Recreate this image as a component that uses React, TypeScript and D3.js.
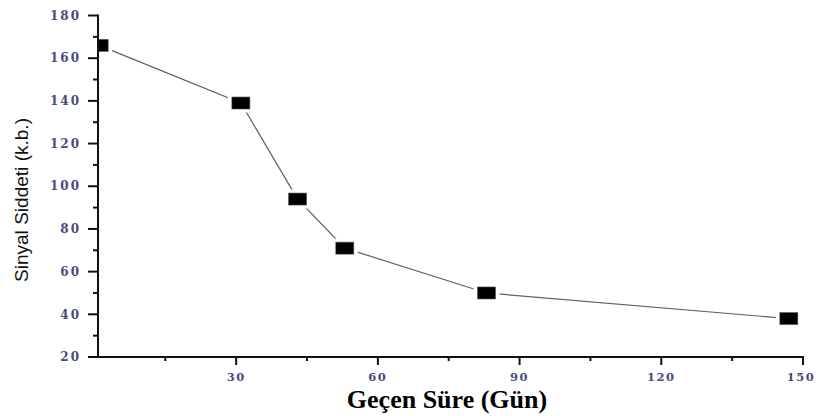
import { useEffect, useRef } from 'react';
import * as d3 from 'd3';

// days elapsed vs. signal intensity
const days = [1, 31, 43, 53, 83, 147];
const signal = [166, 139, 94, 71, 50, 38];

const xTicks = [30, 60, 90, 120, 150];
const xMinor = [15, 45, 75, 105, 135];
const yTicks = [20, 40, 60, 80, 100, 120, 140, 160, 180];
const yMinor = [30, 50, 70, 90, 110, 130, 150, 170];

const W = 816;
const H = 416;

export default function App() {
  const svgRef = useRef<SVGSVGElement | null>(null);

  useEffect(() => {
    if (!svgRef.current) return;
    const svg = d3.select(svgRef.current);
    svg.selectAll('*').remove();

    const x = d3.scaleLinear().domain([0.75, 150]).range([98, 803]);
    const y = d3.scaleLinear().domain([20, 180]).range([357, 15.5]);

    const pts = days.map((d, i) => ({ d, v: signal[i] }));

    svg.append('defs').append('clipPath').attr('id', 'plot')
      .append('rect').attr('x', 98).attr('y', 0).attr('width', W - 98).attr('height', 357);

    const g = svg.append('g').attr('clip-path', 'url(#plot)');

    // connecting line
    g.append('path')
      .datum(pts)
      .attr('d', d3.line<{ d: number; v: number }>().x(p => x(p.d)).y(p => y(p.v)))
      .attr('fill', 'none')
      .attr('stroke', '#606060')
      .attr('stroke-width', 1.2);

    // white halo so the line stops short of each marker
    g.selectAll('rect.halo')
      .data(pts)
      .join('rect')
      .attr('class', 'halo')
      .attr('x', p => x(p.d) - 13)
      .attr('y', p => y(p.v) - 9.5)
      .attr('width', 26)
      .attr('height', 19)
      .attr('fill', '#fff');

    g.selectAll('rect.mark')
      .data(pts)
      .join('rect')
      .attr('class', 'mark')
      .attr('x', p => x(p.d) - 9)
      .attr('y', p => y(p.v) - 6)
      .attr('width', 18)
      .attr('height', 12)
      .attr('fill', '#000')
      .attr('stroke', '#555')
      .attr('stroke-width', 0.6);

    const labelColor = '#4b4a7e';

    // y axis
    const yAxis = svg.append('g').attr('transform', 'translate(98,0)');
    yAxis.append('line').attr('x1', 0).attr('x2', 0).attr('y1', y(180) - 1).attr('y2', y(20) + 1)
      .attr('stroke', '#111').attr('stroke-width', 2);
    yAxis.selectAll('line.maj').data(yTicks).join('line').attr('class', 'maj')
      .attr('x1', -10).attr('x2', 0).attr('y1', d => y(d)).attr('y2', d => y(d))
      .attr('stroke', '#111').attr('stroke-width', 2);
    yAxis.selectAll('line.min').data(yMinor).join('line').attr('class', 'min')
      .attr('x1', -5).attr('x2', 0).attr('y1', d => y(d)).attr('y2', d => y(d))
      .attr('stroke', '#111').attr('stroke-width', 2);
    yAxis.selectAll('text').data(yTicks).join('text')
      .attr('x', -17).attr('y', d => y(d)).attr('dy', '0.35em')
      .attr('text-anchor', 'end')
      .attr('fill', labelColor)
      .style('font-family', '"DejaVu Serif", serif')
      .style('font-size', '12px')
      .style('font-weight', 'bold')
      .style('letter-spacing', '2px')
      .text(d => String(d));

    // x axis
    const xAxis = svg.append('g').attr('transform', 'translate(0,357)');
    xAxis.append('line').attr('x1', 97).attr('x2', x(150) + 1).attr('y1', 0).attr('y2', 0)
      .attr('stroke', '#111').attr('stroke-width', 2);
    xAxis.selectAll('line.maj').data(xTicks).join('line').attr('class', 'maj')
      .attr('x1', d => x(d)).attr('x2', d => x(d)).attr('y1', 0).attr('y2', 8)
      .attr('stroke', '#111').attr('stroke-width', 2);
    xAxis.selectAll('line.min').data(xMinor).join('line').attr('class', 'min')
      .attr('x1', d => x(d)).attr('x2', d => x(d)).attr('y1', 0).attr('y2', 4)
      .attr('stroke', '#111').attr('stroke-width', 2);
    xAxis.selectAll('text').data(xTicks).join('text')
      .attr('x', d => x(d) - (d === 150 ? 2 : 0)).attr('y', 24)
      .attr('text-anchor', 'middle')
      .attr('fill', labelColor)
      .style('font-family', '"DejaVu Serif", serif')
      .style('font-size', '11.5px')
      .style('font-weight', 'bold')
      .style('letter-spacing', '1.5px')
      .text(d => String(d));

    // titles
    svg.append('text')
      .attr('transform', 'translate(28,200) rotate(-90)')
      .attr('text-anchor', 'middle')
      .attr('fill', '#111')
      .attr('textLength', 164)
      .attr('lengthAdjust', 'spacingAndGlyphs')
      .style('font-family', '"Liberation Sans Narrow", "Liberation Sans", Arial, sans-serif')
      .style('font-size', '19px')
      .text('Sinyal Siddeti (k.b.)');

    svg.append('text')
      .attr('x', 447).attr('y', 408)
      .attr('text-anchor', 'middle')
      .attr('fill', '#000')
      .style('font-family', '"Liberation Serif", "Times New Roman", serif')
      .style('font-size', '26px')
      .style('font-weight', 'bold')
      .text('Geçen Süre (Gün)');
  }, []);

  return (
    <div style={{ position: 'absolute', left: 0, top: 0 }}>
      <svg ref={svgRef} width={W} height={H} style={{ display: 'block', background: '#fff' }} />
    </div>
  );
}
